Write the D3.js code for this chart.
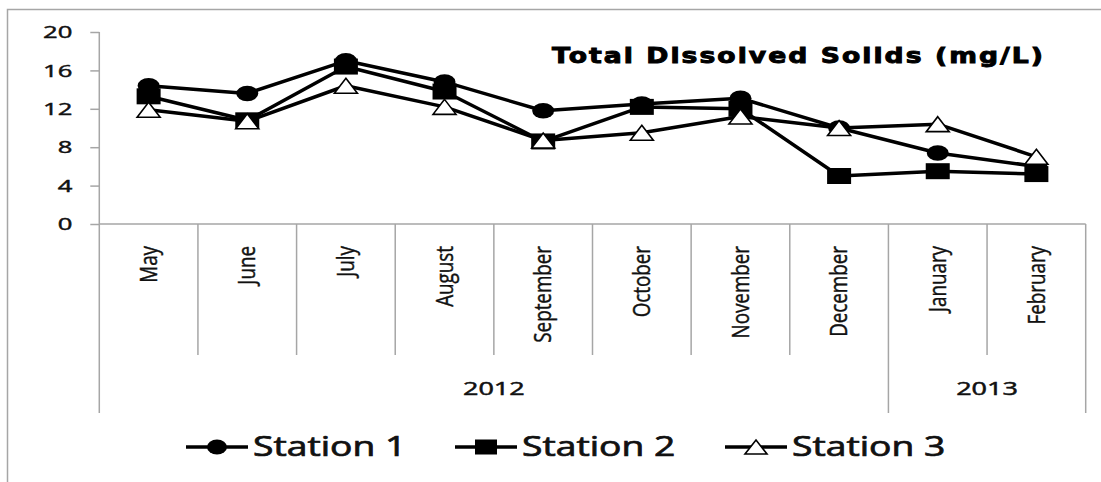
<!DOCTYPE html>
<html>
<head>
<meta charset="utf-8">
<script src="https://cdn.jsdelivr.net/npm/d3@7"></script>
<style>
  html, body { margin: 0; padding: 0; background: #fff; }
  svg { display: block; }
</style>
</head>
<body>
<svg id="chart" width="1101" height="482"></svg>
<script>
// Monthly total dissolved solids at three stations
const months = ["May", "June", "July", "August", "September", "October",
                "November", "December", "January", "February"];
const years = [
  { label: "2012", first: "May", last: "December" },
  { label: "2013", first: "January", last: "February" }
];
const station1 = [14.4, 13.6, 17.0, 14.8, 11.8, 12.5, 13.1, 10.0, 7.4, 6.0];
const station2 = [13.3, 10.8, 16.4, 13.8, 8.6, 12.2, 12.0, 5.0, 5.5, 5.2];
const station3 = [11.9, 10.7, 14.4, 12.2, 8.7, 9.5, 11.2, 10.0, 10.4, 7.0];
const seriesNames = ["Station 1", "Station 2", "Station 3"];
const yTicks = [0, 4, 8, 12, 16, 20];
const titleText = "Total Dissolved Solids (mg/L)";

const series = [
  { name: seriesNames[0], values: station1, marker: "circle" },
  { name: seriesNames[1], values: station2, marker: "square" },
  { name: seriesNames[2], values: station3, marker: "triangle" }
];

const svg = d3.select("#chart");
const grey = "#a6a6a6";

// outer chart frame (left and top edges visible)
svg.append("path")
  .attr("d", "M7.5,482 L7.5,9.5 L1101,9.5")
  .attr("fill", "none").attr("stroke", grey).attr("stroke-width", 1.5);

const x = d3.scaleBand().domain(months).range([99.3, 1085.7]).paddingInner(0).paddingOuter(0);
const y = d3.scaleLinear().domain([0, 20]).range([224, 32]);

const plotLeft = x.range()[0], plotRight = x.range()[1];

// y axis
const yAxis = svg.append("g")
  .attr("transform", `translate(${plotLeft},0)`)
  .call(d3.axisLeft(y).tickValues(yTicks).tickSize(9).tickSizeOuter(0));
yAxis.select(".domain").remove();
yAxis.selectAll(".tick line").attr("stroke", grey).attr("stroke-width", 1.5);
yAxis.selectAll(".tick text")
  .attr("x", null)
  .attr("transform", "translate(-27,0) scale(1.6,1)")
  .attr("dy", "0.36em")
  .attr("text-anchor", "end")
  .attr("fill", "#111")
  .attr("stroke", "#111").attr("stroke-width", 0.45)
  .style("font-family", "'Open Sans', sans-serif")
  .style("font-weight", "normal")
  .style("font-size", "16px");

// y axis line running down through the category rows
svg.append("line")
  .attr("x1", plotLeft).attr("x2", plotLeft)
  .attr("y1", y(20)).attr("y2", 413)
  .attr("stroke", grey).attr("stroke-width", 1.5);

// x axis line
svg.append("line")
  .attr("x1", plotLeft).attr("x2", plotRight)
  .attr("y1", y(0)).attr("y2", y(0))
  .attr("stroke", grey).attr("stroke-width", 1.5);

// month dividers
const boundaries = months.map(m => x(m)).concat([plotRight]);
const yearEdges = new Set();
years.forEach(yr => { yearEdges.add(x(yr.first)); yearEdges.add(x(yr.last) + x.bandwidth()); });
svg.append("g").selectAll("line")
  .data(boundaries.filter(b => b !== plotLeft))
  .join("line")
  .attr("x1", d => d).attr("x2", d => d)
  .attr("y1", y(0))
  .attr("y2", d => yearEdges.has(d) ? 413 : 355)
  .attr("stroke", grey).attr("stroke-width", 1.5);

// rotated month labels
svg.append("g").selectAll("text")
  .data(months)
  .join("text")
  .attr("transform", d => `translate(${x(d) + x.bandwidth() / 2},246) scale(1.25,1) rotate(-90)`)
  .attr("dy", "0.35em")
  .attr("text-anchor", "end")
  .attr("fill", "#111")
  .attr("stroke", "#111").attr("stroke-width", 0.35)
  .style("font-family", "'Open Sans', sans-serif")
  .style("font-size", "18.8px")
  .text(d => d);

// year labels
svg.append("g").selectAll("text")
  .data(years)
  .join("text")
  .attr("transform", d => {
    const cx = (x(d.first) + x(d.last) + x.bandwidth()) / 2;
    return `translate(${cx},395) scale(1.5,1)`;
  })
  .attr("text-anchor", "middle")
  .attr("fill", "#111")
  .attr("stroke", "#111").attr("stroke-width", 0.5)
  .style("font-family", "'Open Sans', sans-serif")
  .style("font-size", "18px")
  .text(d => d.label);

// markers
function drawMarker(g, type, cx, cy, w, h) {
  if (type === "circle") {
    g.append("ellipse").attr("cx", cx).attr("cy", cy).attr("rx", w / 2).attr("ry", h / 2)
      .attr("fill", "#000");
  } else if (type === "square") {
    g.append("rect").attr("x", cx - w / 2).attr("y", cy - h / 2).attr("width", w).attr("height", h)
      .attr("fill", "#000");
  } else {
    g.append("path")
      .attr("d", `M${cx},${cy - h / 2} L${cx + w / 2},${cy + h / 2} L${cx - w / 2},${cy + h / 2} Z`)
      .attr("fill", "#fff").attr("stroke", "#000").attr("stroke-width", 1.6)
      .attr("stroke-linejoin", "miter");
  }
}

const line = d3.line()
  .x((d, i) => x(months[i]) + x.bandwidth() / 2)
  .y(d => y(d));

const markerSize = { circle: [22, 15.5], square: [24, 16], triangle: [23, 15] };

series.forEach(s => {
  const g = svg.append("g");
  g.append("path")
    .attr("d", line(s.values))
    .attr("fill", "none").attr("stroke", "#000").attr("stroke-width", 3.5)
    .attr("stroke-linejoin", "round");
  s.values.forEach((v, i) => {
    const [w, h] = markerSize[s.marker];
    drawMarker(g, s.marker, x(months[i]) + x.bandwidth() / 2, y(v), w, h);
  });
});

// chart title
svg.append("text")
  .attr("transform", "translate(552,63) scale(1.3,1)")
  .attr("textLength", 491 / 1.3)
  .attr("lengthAdjust", "spacing")
  .attr("fill", "#000")
  .attr("stroke", "#000").attr("stroke-width", 0.9)
  .style("font-family", "'DejaVu Sans', sans-serif")
  .style("font-weight", "bold")
  .style("font-size", "20.5px")
  .text(titleText);

// legend
const legendItems = [
  { start: 186, marker: "circle", size: [20, 15] },
  { start: 455, marker: "square", size: [22, 15] },
  { start: 725, marker: "triangle", size: [22, 14] }
];
const legendY = 447;
legendItems.forEach((it, i) => {
  const g = svg.append("g");
  g.append("line")
    .attr("x1", it.start).attr("x2", it.start + 62)
    .attr("y1", legendY).attr("y2", legendY)
    .attr("stroke", "#000").attr("stroke-width", 3.5);
  drawMarker(g, it.marker, it.start + 31, legendY, it.size[0], it.size[1]);
  g.append("text")
    .attr("transform", `translate(${it.start + 67},456) scale(1.4,1)`)
    .attr("fill", "#111")
    .attr("stroke", "#111").attr("stroke-width", 0.7)
    .style("font-family", "'Open Sans', sans-serif")
    .style("font-size", "26.6px")
    .text(series[i].name);
});
</script>
</body>
</html>
